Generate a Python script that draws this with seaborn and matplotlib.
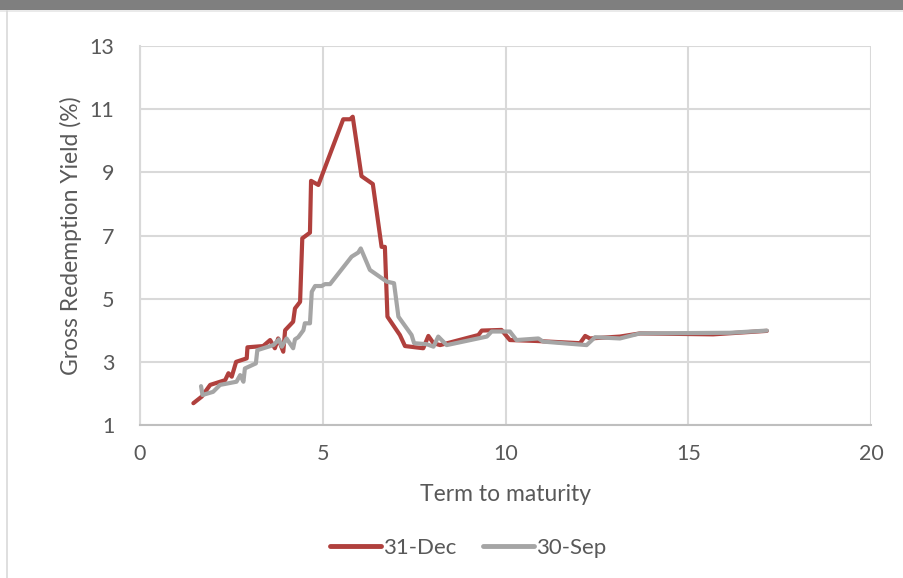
import matplotlib
matplotlib.use("Agg")
import matplotlib.pyplot as plt
import seaborn as sns
import pandas as pd
from matplotlib.patches import Rectangle
from matplotlib.lines import Line2D

# ---- data ----
dec_term = [1.46, 1.69, 1.92, 2.33, 2.42, 2.51, 2.63, 2.92, 2.94, 3.37, 3.56, 3.69, 3.78, 3.92,
            3.97, 4.19, 4.24, 4.38, 4.44, 4.65, 4.68, 4.88, 5.56, 5.75, 5.82, 6.06, 6.37, 6.61,
            6.70, 6.77, 7.11, 7.25, 7.75, 7.89, 8.03, 8.21, 9.26, 9.35, 9.89, 10.12, 10.85,
            12.04, 12.18, 12.31, 13.13, 13.68, 15.68, 17.15]
dec_yield = [1.69, 1.90, 2.27, 2.42, 2.64, 2.53, 3.00, 3.11, 3.46, 3.50, 3.69, 3.43, 3.74, 3.32,
             4.00, 4.27, 4.69, 4.90, 6.91, 7.09, 8.73, 8.60, 10.68, 10.68, 10.76, 8.88, 8.63, 6.64,
             6.64, 4.43, 3.85, 3.50, 3.43, 3.82, 3.59, 3.53, 3.85, 3.99, 4.01, 3.69, 3.66,
             3.59, 3.82, 3.74, 3.80, 3.90, 3.87, 3.98]

sep_term = [1.67, 1.71, 2.00, 2.19, 2.64, 2.74, 2.83, 2.87, 3.17, 3.21, 3.65, 3.80, 3.88, 4.01,
            4.19, 4.24, 4.33, 4.47, 4.51, 4.65, 4.70, 4.79, 4.97, 5.06, 5.20, 5.79, 5.97, 6.04,
            6.29, 6.75, 6.95, 7.07, 7.43, 7.50, 7.84, 8.03, 8.16, 8.39, 9.49, 9.62, 10.12,
            10.30, 10.90, 11.03, 12.22, 12.45, 13.13, 13.68, 16.14, 17.15]
sep_yield = [2.23, 1.95, 2.05, 2.27, 2.37, 2.58, 2.37, 2.79, 2.95, 3.37, 3.53, 3.71, 3.48, 3.74,
             3.43, 3.71, 3.78, 4.00, 4.22, 4.22, 5.22, 5.40, 5.40, 5.46, 5.46, 6.33, 6.46, 6.59,
             5.91, 5.54, 5.49, 4.43, 3.85, 3.59, 3.56, 3.48, 3.80, 3.53, 3.80, 3.96, 3.96,
             3.69, 3.74, 3.64, 3.53, 3.78, 3.74, 3.90, 3.92, 3.99]

series_names = ["31-Dec", "30-Sep"]
x_ticks = [0, 5, 10, 15, 20]
y_ticks = [1, 3, 5, 7, 9, 11, 13]

df = pd.concat([
    pd.DataFrame({"term": dec_term, "yield": dec_yield, "series": series_names[0]}),
    pd.DataFrame({"term": sep_term, "yield": sep_yield, "series": series_names[1]}),
])

sns.set_style("white")
plt.rcParams["font.family"] = ["Lato", "DejaVu Sans"]

RED = "#B0403D"
GRAY = "#A5A5A5"
TXT = "#595959"
GRID = "#D9D9D9"

fig = plt.figure(figsize=(9.04, 5.78), dpi=100)
fig.patch.set_facecolor("white")
# header bar and frame
fig.add_artist(Rectangle((0, 1 - 10 / 578), 1, 10 / 578, transform=fig.transFigure,
                         facecolor="#7F7F7F", edgecolor="none"))
fig.add_artist(Line2D([0, 1], [1 - 11 / 578] * 2, transform=fig.transFigure, color="#E6E6E6", lw=1.2))
fig.add_artist(Line2D([7 / 904] * 2, [0, 1 - 11 / 578], transform=fig.transFigure, color="#D9D9D9", lw=1.2))

ax = fig.add_axes([140 / 904, 1 - 425 / 578, 731 / 904, 379 / 578])
sns.lineplot(data=df, x="term", y="yield", hue="series", sort=False, estimator=None,
             palette=[RED, GRAY], linewidth=3.0, ax=ax, legend=False)

ax.set_xlim(0, 20)
ax.set_ylim(1, 13)
ax.set_xticks(x_ticks)
ax.set_yticks(y_ticks)
ax.grid(True, color=GRID, linewidth=1.5)
ax.set_axisbelow(True)
for s in ["top", "right"]:
    ax.spines[s].set_visible(False)
ax.spines["left"].set_color(GRID)
ax.spines["left"].set_linewidth(1.5)
ax.spines["bottom"].set_color("#BFBFBF")
ax.spines["bottom"].set_linewidth(1.5)
ax.tick_params(axis="both", length=0, labelsize=15.5, labelcolor=TXT)
ax.tick_params(axis="x", pad=14)
ax.tick_params(axis="y", pad=18.5)
ax.set_xlabel("Term to maturity", fontsize=16.5, color=TXT, labelpad=14)
ax.set_ylabel("Gross Redemption Yield (%)", fontsize=16.5, color=TXT, labelpad=5)

handles = [Line2D([], [], color=RED, lw=3.5), Line2D([], [], color=GRAY, lw=3.5)]
fig.legend(handles, series_names, loc="center", bbox_to_anchor=(468 / 904, 1 - 548 / 578),
           ncol=2, frameon=False, fontsize=16, labelcolor=TXT, handlelength=2.3,
           handletextpad=0.1, columnspacing=1.2)

fig.savefig("out.png", dpi=100)
